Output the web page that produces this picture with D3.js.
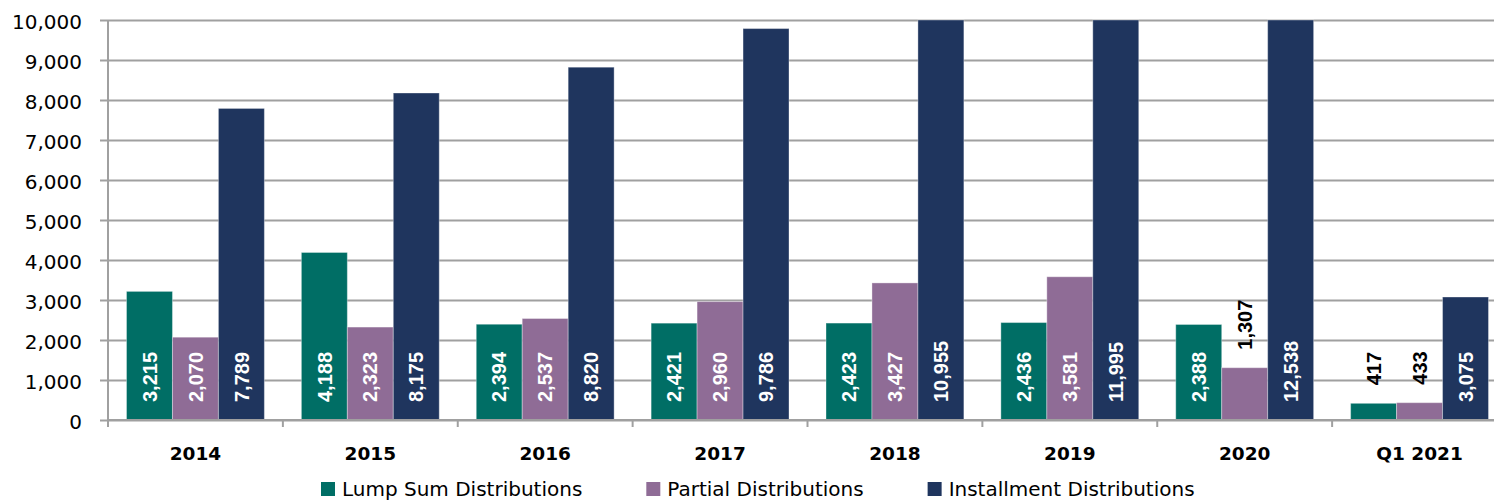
<!DOCTYPE html>
<html>
<head>
<meta charset="utf-8">
<script src="https://cdn.jsdelivr.net/npm/d3@7"></script>
<style>
  html, body { margin: 0; padding: 0; background: #ffffff; }
  svg { display: block; }
</style>
</head>
<body>
<svg id="chart" width="1494" height="502"></svg>
<script>
// Distribution counts by year
const categories = ["2014", "2015", "2016", "2017", "2018", "2019", "2020", "Q1 2021"];
const lumpSum = [3215, 4188, 2394, 2421, 2423, 2436, 2388, 417];
const partial = [2070, 2323, 2537, 2960, 3427, 3581, 1307, 433];
const installment = [7789, 8175, 8820, 9786, 10955, 11995, 12538, 3075];
const seriesNames = ["Lump Sum Distributions", "Partial Distributions", "Installment Distributions"];
const seriesColors = ["#006e65", "#8f6c96", "#1f355e"];
const yTicks = [0, 1000, 2000, 3000, 4000, 5000, 6000, 7000, 8000, 9000, 10000];

const seriesValues = [lumpSum, partial, installment];

const svg = d3.select("#chart");
const plot = { left: 108, right: 1507, top: 20, bottom: 420 };

const x0 = d3.scaleBand().domain(categories).range([plot.left, plot.right]).padding(0);
const groupPad = 18.5;
const x1 = d3.scaleBand().domain(seriesNames).range([groupPad, x0.bandwidth() - groupPad]).padding(0);
const y = d3.scaleLinear().domain([0, 10000]).range([plot.bottom, plot.top]);

const gridColor = "#a0a0a0";

// clip path keeps tall bars inside the value range
svg.append("defs").append("clipPath").attr("id", "plotClip")
  .append("rect")
  .attr("x", plot.left).attr("y", plot.top - 1)
  .attr("width", plot.right - plot.left).attr("height", plot.bottom - plot.top + 1);

// horizontal gridlines with left ticks
const yAxis = d3.axisLeft(y)
  .tickValues(yTicks)
  .tickSize(-(plot.right - plot.left) - 8)
  .tickFormat(d3.format(","));

const gy = svg.append("g")
  .attr("transform", `translate(${plot.right},0)`)
  .call(yAxis);
gy.select(".domain").remove();
gy.selectAll(".tick line")
  .attr("x1", 0)
  .attr("x2", -(plot.right - plot.left) - 8)
  .attr("stroke", gridColor)
  .attr("stroke-width", 2);
gy.selectAll(".tick text").remove();

// y tick labels
svg.append("g").selectAll("text")
  .data(yTicks)
  .join("text")
  .attr("x", 82)
  .attr("y", d => y(d) + 9)
  .attr("text-anchor", "end")
  .attr("font-family", "DejaVu Sans")
  .attr("font-size", 20)
  .attr("fill", "#000")
  .text(d => d3.format(",")(d));

// bars
const rows = categories.map((c, i) => ({
  cat: c,
  vals: seriesNames.map((s, j) => ({ series: s, j, value: seriesValues[j][i] }))
}));

const groups = svg.append("g")
  .attr("clip-path", "url(#plotClip)")
  .selectAll("g")
  .data(rows)
  .join("g")
  .attr("transform", d => `translate(${x0(d.cat)},0)`);

groups.selectAll("rect")
  .data(d => d.vals)
  .join("rect")
  .attr("x", d => x1(d.series))
  .attr("width", x1.bandwidth())
  .attr("y", d => y(Math.min(d.value, 10000)))
  .attr("height", d => y(0) - y(Math.min(d.value, 10000)))
  .attr("fill", d => seriesColors[d.j])
  .attr("stroke", "rgba(255,255,255,0.35)")
  .attr("stroke-width", 1);

// axes lines
svg.append("line")
  .attr("x1", plot.left).attr("x2", plot.left)
  .attr("y1", plot.top).attr("y2", plot.bottom + 7)
  .attr("stroke", gridColor).attr("stroke-width", 2);
svg.append("line")
  .attr("x1", plot.left).attr("x2", plot.right)
  .attr("y1", plot.bottom).attr("y2", plot.bottom)
  .attr("stroke", gridColor).attr("stroke-width", 2);
svg.append("g").selectAll("line")
  .data(categories.slice(1))
  .join("line")
  .attr("x1", d => x0(d)).attr("x2", d => x0(d))
  .attr("y1", plot.bottom).attr("y2", plot.bottom + 7)
  .attr("stroke", gridColor).attr("stroke-width", 2);

// category labels
svg.append("g").selectAll("text")
  .data(categories)
  .join("text")
  .attr("x", d => x0(d) + x0.bandwidth() / 2)
  .attr("y", 460)
  .attr("text-anchor", "middle")
  .attr("font-family", "DejaVu Sans")
  .attr("font-weight", "bold")
  .attr("font-size", 18.5)
  .attr("fill", "#000")
  .text(d => d);

// value labels: inside the bar base when they fit, otherwise above the bar
const labelOffset = 18;
const labelFont = 20;
const fmt = d3.format(",");
const labelLayer = svg.append("g");
rows.forEach(r => {
  r.vals.forEach(v => {
    const cx = x0(r.cat) + x1(v.series) + x1.bandwidth() / 2;
    const top = y(Math.min(v.value, 10000));
    const barH = y(0) - top;
    const t = labelLayer.append("text")
      .attr("font-family", "Liberation Sans")
      .attr("font-weight", "bold")
      .attr("font-size", labelFont)
      .attr("text-anchor", "start")
      .text(fmt(v.value));
    const len = t.node().getComputedTextLength();
    const inside = barH - labelOffset >= len + 4;
    const startY = inside ? y(0) - labelOffset : top - labelOffset;
    t.attr("fill", inside ? "#ffffff" : "#000000")
      .attr("transform", `translate(${cx + labelFont * 0.716 / 2},${startY}) rotate(-90)`);
  });
});

// legend
const legend = svg.append("g");
let lx = 321;
seriesNames.forEach((name, j) => {
  legend.append("rect")
    .attr("x", lx).attr("y", 482)
    .attr("width", 14).attr("height", 14)
    .attr("fill", seriesColors[j]);
  const t = legend.append("text")
    .attr("x", lx + 21).attr("y", 496)
    .attr("font-family", "DejaVu Sans")
    .attr("font-size", 20)
    .attr("fill", "#000")
    .text(name);
  lx += 21 + t.node().getComputedTextLength() + 64;
});
</script>
</body>
</html>
